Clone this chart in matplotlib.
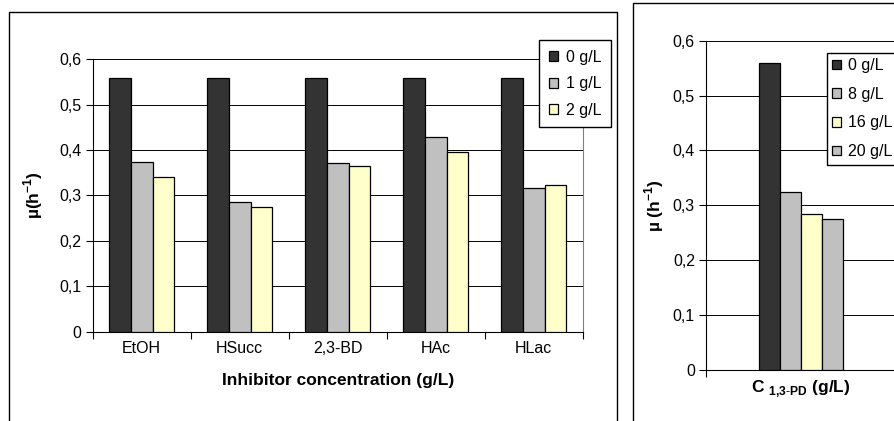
import numpy as np
import matplotlib
matplotlib.use("Agg")
import matplotlib.pyplot as plt
from matplotlib.patches import Rectangle

# ---------------- data ----------------
inhibitors = ["EtOH", "HSucc", "2,3-BD", "HAc", "HLac"]
left_series = ["0 g/L", "1 g/L", "2 g/L"]
mu_0 = [0.558, 0.558, 0.558, 0.558, 0.558]
mu_1 = [0.374, 0.285, 0.372, 0.428, 0.317]
mu_2 = [0.340, 0.275, 0.366, 0.396, 0.323]

pd_series = ["0 g/L", "8 g/L", "16 g/L", "20 g/L"]
pd_mu = [0.559, 0.324, 0.285, 0.276]

yticks = [0, 0.1, 0.2, 0.3, 0.4, 0.5, 0.6]
ytick_labels = ["0", "0,1", "0,2", "0,3", "0,4", "0,5", "0,6"]

DARK = "#333333"
GRAY = "#C0C0C0"
YELLOW = "#FFFFCC"

plt.rcParams["font.family"] = ["Liberation Sans", "DejaVu Sans"]
plt.rcParams["font.size"] = 11.5
plt.rcParams["mathtext.fontset"] = "custom"
plt.rcParams["mathtext.rm"] = "Liberation Sans"
plt.rcParams["mathtext.bf"] = "Liberation Sans:bold"

W, H = 894, 421
fig = plt.figure(figsize=(W / 100, H / 100), dpi=100)
fig.patch.set_facecolor("white")

# outer chart frames
fig.add_artist(Rectangle((9 / W, -0.05), (617 - 9) / W, (421 - 12) / H + 0.05,
                         transform=fig.transFigure, fill=False, ec="black", lw=1))
fig.add_artist(Rectangle((633 / W, -0.05), 0.5, (421 - 3) / H + 0.05,
                         transform=fig.transFigure, fill=False, ec="black", lw=1))


def style_axes(ax):
    ax.set_ylim(0, 0.6)
    ax.set_yticks(yticks)
    ax.set_yticklabels(ytick_labels)
    ax.yaxis.grid(True, color="black", lw=0.7)
    ax.set_axisbelow(True)
    ax.spines["top"].set_visible(False)
    ax.spines["right"].set_color("#808080")
    ax.spines["left"].set_color("black")
    ax.spines["bottom"].set_color("black")
    ax.tick_params(axis="y", direction="out", length=5, width=0.8, pad=3)


# ---------------- left chart ----------------
ax1 = fig.add_axes([92.7 / W, (H - 331.7) / H, 490 / W, 272.4 / H])
x = np.arange(len(inhibitors))
bw = 0.222
for k, (vals, col) in enumerate(zip([mu_0, mu_1, mu_2], [DARK, GRAY, YELLOW])):
    ax1.bar(x + (k - 1) * bw, vals, bw, color=col, edgecolor="black", lw=0.9,
            label=left_series[k], zorder=3)
ax1.set_xlim(-0.5, len(inhibitors) - 0.5)
style_axes(ax1)
ax1.set_xticks(x)
ax1.set_xticklabels(inhibitors)
ax1.set_xticks(np.arange(-0.5, len(inhibitors)), minor=True)
ax1.tick_params(axis="x", which="major", length=0, pad=7)
ax1.tick_params(axis="x", which="minor", direction="out", length=5, width=0.8)
ax1.set_xlabel("Inhibitor concentration (g/L)", fontweight="bold", fontsize=12.5, labelpad=12)
ax1.set_ylabel("µ(h$^{\\mathbf{-1}}$)", fontweight="bold", fontsize=12.5, labelpad=10)
ax1.legend(loc="upper left", bbox_to_anchor=(539.3 / W, 1 - 40.3 / H),
           bbox_transform=fig.transFigure, frameon=True, fancybox=False,
           edgecolor="black", framealpha=1, handlelength=0.55, handleheight=0.55,
           handletextpad=0.5, labelspacing=0.72, borderpad=0.6, borderaxespad=0)

# ---------------- right chart ----------------
ax2 = fig.add_axes([706 / W, (H - 370) / H, 190 / W, 329.3 / H])
bw2 = 0.1116
pd_colors = [DARK, GRAY, YELLOW, GRAY]
for k, (v, col) in enumerate(zip(pd_mu, pd_colors)):
    ax2.bar((k - 1.5) * bw2, v, bw2, color=col, edgecolor="black", lw=0.9,
            label=pd_series[k], zorder=3)
ax2.set_xlim(-0.5, 0.5)
style_axes(ax2)
ax2.set_xticks([-0.5, 0.5])
ax2.set_xticklabels([])
ax2.tick_params(axis="x", direction="out", length=5, width=0.8)
ax2.set_xlabel("C $_{\\mathbf{1{,}3}\\text{-}\\mathbf{PD}}$ (g/L)", fontweight="bold",
               fontsize=12.5, labelpad=-3)
ax2.set_ylabel("µ (h$^{\\mathbf{-1}}$)", fontweight="bold", fontsize=12.5, labelpad=5)
ax2.legend(loc="upper left", bbox_to_anchor=(826.7 / W, 1 - 52.7 / H),
           bbox_transform=fig.transFigure, frameon=True, fancybox=False,
           edgecolor="black", framealpha=1, handlelength=0.55, handleheight=0.55,
           handletextpad=0.45, labelspacing=0.85, borderpad=0.35, borderaxespad=0)

fig.savefig("out.png", dpi=100)
